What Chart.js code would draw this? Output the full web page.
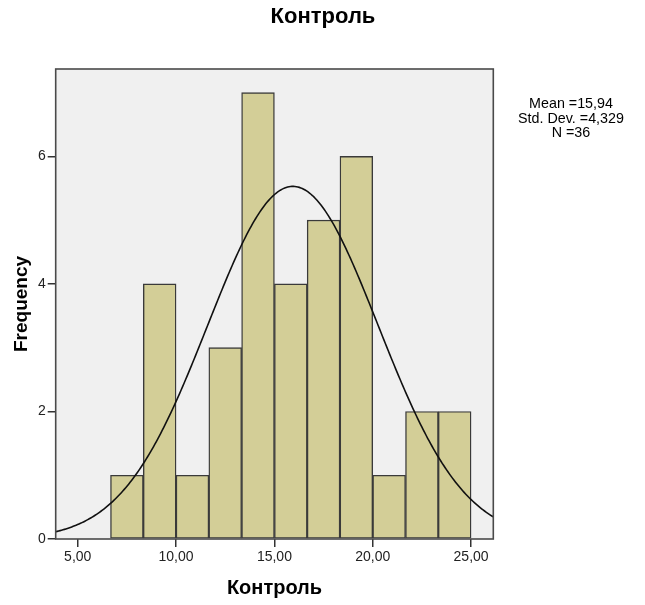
<!DOCTYPE html>
<html>
<head>
<meta charset="utf-8">
<script src="https://cdn.jsdelivr.net/npm/chart.js@4/dist/chart.umd.min.js"></script>
<style>
html,body{margin:0;padding:0;background:#fff;}
#wrap{position:relative;width:645px;height:605px;}
</style>
</head>
<body>
<div id="wrap"><canvas id="c" width="645" height="605"></canvas></div>
<script>
// ---- data ----
const chartTitle = "Контроль";
const xTitle = "Контроль";
const yTitle = "Frequency";
const binCenters = [7.5, 9.1667, 10.8333, 12.5, 14.1667, 15.8333, 17.5, 19.1667, 20.8333, 22.5, 24.1667];
const frequencies = [1, 4, 1, 3, 7, 4, 5, 6, 1, 2, 2];
const xTickValues = [5, 10, 15, 20, 25];
const yTickValues = [0, 2, 4, 6];
const statMean = 15.94;
const statSD = 4.329;
const statN = 36;
const binWidth = 1.6667;
const statLines = ["Mean =15,94", "Std. Dev. =4,329", "N =36"];
const xMin = 3.88, xMax = 26.13, yMax = 7.37;

// fitted normal curve defined by the stated Mean / Std. Dev. / N
const curve = [];
for (let i = 0; i <= 300; i++) {
  const x = xMin + (xMax - xMin) * i / 300;
  const z = (x - statMean) / statSD;
  curve.push({x: x, y: statN * binWidth / (statSD * Math.sqrt(2 * Math.PI)) * Math.exp(-0.5 * z * z)});
}
const barData = binCenters.map((c, i) => ({x: c, y: frequencies[i]}));

const FONT = "'Liberation Sans', Arial, sans-serif";

const decor = {
  id: 'decor',
  beforeDatasetsDraw(chart) {
    const {ctx, chartArea: a} = chart;
    ctx.save();
    ctx.fillStyle = '#f0f0f0';
    ctx.fillRect(a.left, a.top, a.right - a.left, a.bottom - a.top);
    ctx.restore();
  },
  afterDraw(chart) {
    const {ctx, chartArea: a} = chart;
    ctx.save();
    ctx.strokeStyle = '#4a4a4a';
    ctx.lineWidth = 1.6;
    ctx.strokeRect(a.left, a.top, a.right - a.left, a.bottom - a.top);
    ctx.fillStyle = '#000';
    ctx.textAlign = 'center';
    ctx.textBaseline = 'middle';
    ctx.font = "bold 22px " + FONT;
    ctx.fillText(chartTitle, 323, 17);
    ctx.font = "14.3px " + FONT;
    statLines.forEach((t, i) => ctx.fillText(t, 571, 104.5 + i * 14.5));
    ctx.restore();
  }
};

new Chart(document.getElementById('c'), {
  type: 'bar',
  data: {
    datasets: [
      {
        type: 'line',
        data: curve,
        borderColor: '#111',
        borderWidth: 1.6,
        pointRadius: 0,
        fill: false,
        tension: 0,
        order: 0
      },
      {
        type: 'bar',
        data: barData,
        backgroundColor: '#d3ce97',
        borderColor: '#3a3a3a',
        borderWidth: 1.4,
        borderSkipped: false,
        barPercentage: 1,
        categoryPercentage: 1,
        order: 1
      }
    ]
  },
  options: {
    responsive: false,
    animation: false,
    layout: {padding: {top: 69, right: 151.7, left: 0, bottom: 0}},
    plugins: {legend: {display: false}, tooltip: {enabled: false}, title: {display: false}},
    scales: {
      x: {
        type: 'linear',
        min: xMin, max: xMax,
        offset: false,
        afterFit: s => { s.height = 66; },
        afterBuildTicks: s => { s.ticks = xTickValues.map(v => ({value: v})); },
        grid: {display: true, offset: false, drawOnChartArea: false, drawTicks: true, tickLength: 8, color: '#333', lineWidth: 1.5},
        border: {display: false},
        ticks: {
          padding: 2, color: '#222', font: {family: FONT, size: 14},
          maxRotation: 0,
          callback: v => v.toFixed(2).replace('.', ',')
        },
        title: {display: true, text: xTitle, color: '#000', font: {family: FONT, size: 20, weight: 'bold'}, padding: {top: 0, bottom: 5}}
      },
      y: {
        type: 'linear',
        min: 0, max: yMax,
        afterFit: s => { s.width = 55.7; },
        afterBuildTicks: s => { s.ticks = yTickValues.map(v => ({value: v})); },
        grid: {display: true, drawOnChartArea: false, drawTicks: true, tickLength: 8, color: '#333', lineWidth: 1.5},
        border: {display: false},
        ticks: {padding: 2, color: '#222', font: {family: FONT, size: 14}},
        title: {display: true, text: yTitle, color: '#000', font: {family: FONT, size: 19, weight: 'bold'}, padding: {top: 10.5, bottom: 0}}
      }
    }
  },
  plugins: [decor]
});
</script>
</body>
</html>
